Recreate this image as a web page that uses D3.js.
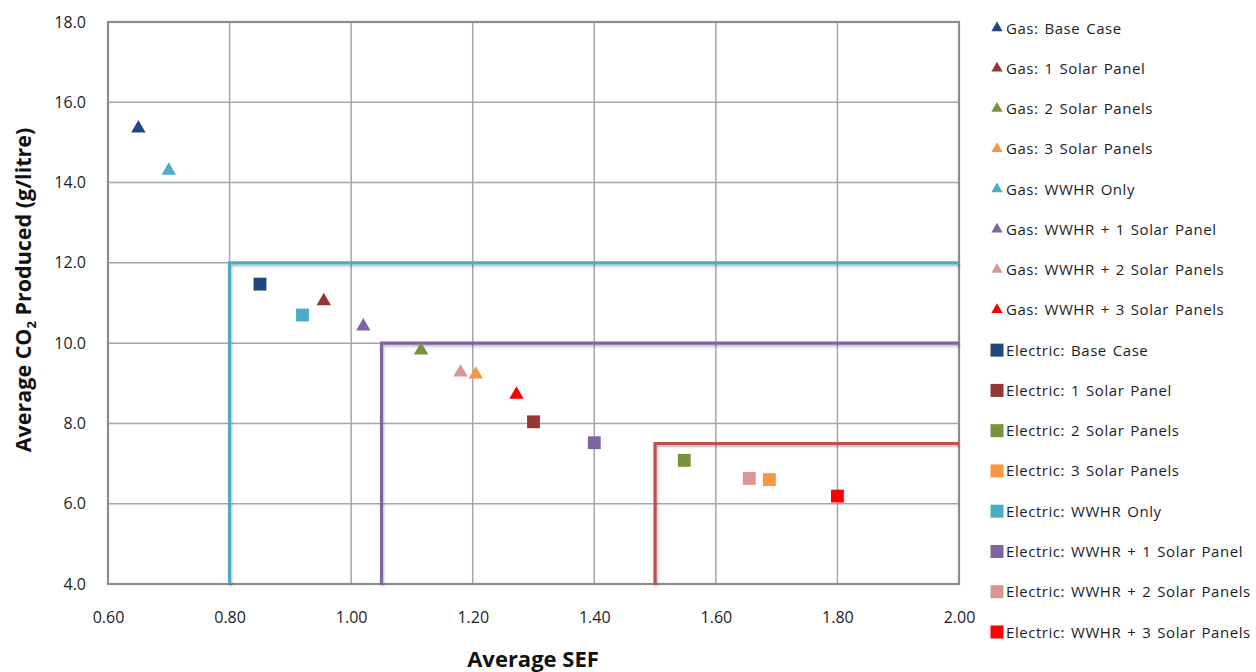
<!DOCTYPE html>
<html><head><meta charset="utf-8">
<script src="https://cdn.jsdelivr.net/npm/d3@7"></script>
<style>body{margin:0;background:#fff;} text{font-family:"Open Sans","Liberation Sans",sans-serif;}</style>
</head><body><svg id="c" width="1256" height="672"></svg>
<script>
const seriesNames = ["Gas: Base Case","Gas: 1 Solar Panel","Gas: 2 Solar Panels","Gas: 3 Solar Panels","Gas: WWHR Only","Gas: WWHR + 1 Solar Panel","Gas: WWHR + 2 Solar Panels","Gas: WWHR + 3 Solar Panels","Electric: Base Case","Electric: 1 Solar Panel","Electric: 2 Solar Panels","Electric: 3 Solar Panels","Electric: WWHR Only","Electric: WWHR + 1 Solar Panel","Electric: WWHR + 2 Solar Panels","Electric: WWHR + 3 Solar Panels"];
const seriesShapes = ["triangle","triangle","triangle","triangle","triangle","triangle","triangle","triangle","square","square","square","square","square","square","square","square"];
const seriesColors = ["#1F497D","#953735","#77933C","#F79646","#4BACC6","#8064A2","#D99694","#FF0000","#1F497D","#953735","#77933C","#F79646","#4BACC6","#8064A2","#D99694","#FF0000"];
const sefValues = [0.65,0.955,1.115,1.205,0.70,1.02,1.18,1.272,0.85,1.30,1.548,1.688,0.92,1.40,1.655,1.80];
const co2Values = [15.35,11.05,9.82,9.22,14.30,10.42,9.27,8.72,11.47,8.04,7.08,6.60,10.70,7.52,6.63,6.19];
const xTicks = [0.6,0.8,1.0,1.2,1.4,1.6,1.8,2.0];
const yTicks = [4,6,8,10,12,14,16,18];
const thresholdSEF = [0.80,1.05,1.50];
const thresholdCO2 = [12,10,7.5];
const thresholdColors = ["#4BACC6","#8064A2","#C0504D"];

const svg = d3.select("#c");
const L=108,R=959,T=22,B=584;
const x = d3.scaleLinear().domain([0.6,2.0]).range([L,R]);
const y = d3.scaleLinear().domain([4,18]).range([B,T]);

// grid
svg.append("g").selectAll("line").data(xTicks).join("line")
  .attr("x1",d=>x(d)).attr("x2",d=>x(d)).attr("y1",T).attr("y2",B)
  .attr("stroke","#A6A6A6").attr("stroke-width",1.5);
svg.append("g").selectAll("line").data(yTicks).join("line")
  .attr("x1",L).attr("x2",R).attr("y1",d=>y(d)).attr("y2",d=>y(d))
  .attr("stroke","#A6A6A6").attr("stroke-width",1.5);
svg.append("rect").attr("x",L).attr("y",T).attr("width",R-L).attr("height",B-T)
  .attr("fill","none").attr("stroke","#8C8C8C").attr("stroke-width",2.2);

// axes labels
const xAxis = d3.axisBottom(x).tickValues(xTicks).tickFormat(d3.format(".2f")).tickSize(0).tickPadding(28);
const gx = svg.append("g").attr("transform",`translate(0,${B})`).call(xAxis);
gx.select(".domain").remove();
gx.selectAll("text").attr("font-size",16).attr("fill","#1c1c28");
const yAxis = d3.axisLeft(y).tickValues(yTicks).tickFormat(d3.format(".1f")).tickSize(0).tickPadding(22);
const gy = svg.append("g").attr("transform",`translate(${L},0)`).call(yAxis);
gy.select(".domain").remove();
gy.selectAll("text").attr("font-size",16).attr("fill","#1c1c28");

// shadow filter
const defs = svg.append("defs");
const f = defs.append("filter").attr("id","sh").attr("x","-5%").attr("y","-5%").attr("width","110%").attr("height","110%");
f.append("feDropShadow").attr("dx",1).attr("dy",2).attr("stdDeviation",1.2).attr("flood-color","#000").attr("flood-opacity",0.25);

// threshold lines
thresholdSEF.forEach((s,i)=>{
  svg.append("path")
    .attr("d",d3.line()([[x(s),y(4)],[x(s),y(thresholdCO2[i])],[x(2.0),y(thresholdCO2[i])]]))
    .attr("fill","none").attr("stroke",thresholdColors[i]).attr("stroke-width",3.2)
    .attr("filter","url(#sh)");
});

// markers
const tri = d3.symbol().type(d3.symbolTriangle).size(90);
const sq = d3.symbol().type(d3.symbolSquare).size(165);
svg.append("g").selectAll("path").data(seriesNames.map((n,i)=>i)).join("path")
  .attr("d",i=>seriesShapes[i]==="triangle"?tri():sq())
  .attr("transform",i=>`translate(${x(sefValues[i])},${y(co2Values[i])})`)
  .attr("fill",i=>seriesColors[i]);

// legend
const lg = svg.append("g");
const rowY = d3.scaleLinear().domain([0,15]).range([28,632]);
seriesNames.forEach((n,i)=>{
  const g = lg.append("g").attr("transform",`translate(997,${rowY(i)})`);
  if(seriesShapes[i]==="triangle"){
    g.append("path").attr("d",d3.symbol().type(d3.symbolTriangle).size(55)()).attr("fill",seriesColors[i]);
  } else {
    g.append("rect").attr("x",-6.5).attr("y",-6.5).attr("width",13).attr("height",13).attr("fill",seriesColors[i]);
  }
  g.append("text").attr("x",9).attr("y",5.5).attr("font-size",15).attr("letter-spacing",0.55).attr("word-spacing",1.5)
    .attr("fill","#1c1c28").text(n);
});

// axis titles
svg.append("text").attr("x",533).attr("y",667).attr("text-anchor","middle")
  .attr("font-size",22).attr("font-weight","bold").attr("fill","#111").text("Average SEF");
const yt = svg.append("text").attr("transform","translate(31,290) rotate(-90)").attr("text-anchor","middle")
  .attr("font-size",21.5).attr("font-weight","bold").attr("fill","#111");
yt.append("tspan").text("Average CO");
yt.append("tspan").attr("font-size",13).attr("dy",5).text("2");
yt.append("tspan").attr("dy",-5).text(" Produced (g/litre)");
</script></body></html>
